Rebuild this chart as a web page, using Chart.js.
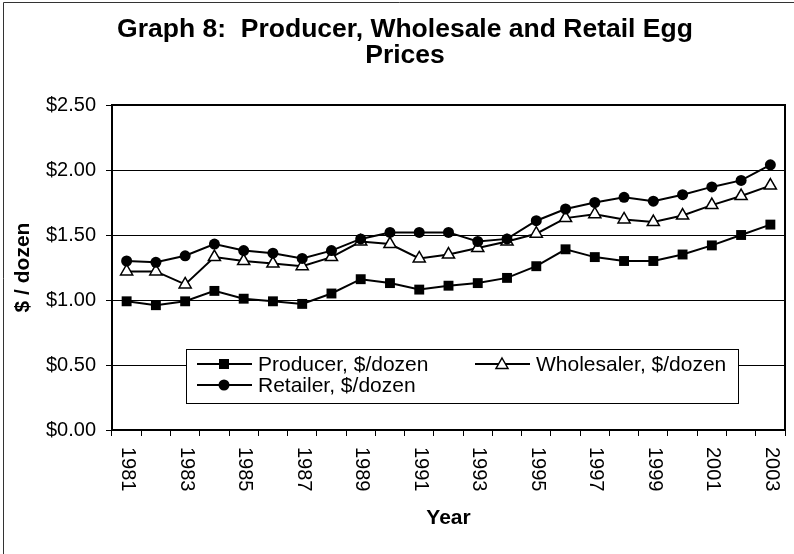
<!DOCTYPE html>
<html>
<head>
<meta charset="utf-8">
<title>Graph 8</title>
<script src="https://cdn.jsdelivr.net/npm/chart.js@4/dist/chart.umd.min.js"></script>
<style>
  html, body { margin: 0; padding: 0; background: #fff; }
  #wrap { width: 794px; height: 554px; }
</style>
</head>
<body>
<div id="wrap"><canvas id="eggChart" width="794" height="554"></canvas></div>
<script>
// datos
var years = ['1981', '1982', '1983', '1984', '1985', '1986', '1987', '1988', '1989', '1990', '1991', '1992',
             '1993', '1994', '1995', '1996', '1997', '1998', '1999', '2000', '2001', '2002', '2003'];
var producer = [0.99, 0.96, 0.99, 1.07, 1.01, 0.99, 0.97, 1.05, 1.16, 1.13, 1.08, 1.11,
                1.13, 1.17, 1.26, 1.39, 1.33, 1.30, 1.30, 1.35, 1.42, 1.50, 1.58];
var wholesaler = [1.22, 1.22, 1.12, 1.33, 1.30, 1.28, 1.26, 1.33, 1.45, 1.43, 1.32, 1.35,
                  1.40, 1.45, 1.51, 1.63, 1.66, 1.62, 1.60, 1.65, 1.73, 1.80, 1.88];
var retailer = [1.30, 1.29, 1.34, 1.43, 1.38, 1.36, 1.32, 1.38, 1.47, 1.52, 1.52, 1.52,
                1.45, 1.47, 1.61, 1.70, 1.75, 1.79, 1.76, 1.81, 1.87, 1.92, 2.04];
var seriesNames = ['Producer, $/dozen', 'Wholesaler, $/dozen', 'Retailer, $/dozen'];
var yMin = 0, yMax = 2.5, yStep = 0.5;

var fontFamily = "'Liberation Sans', Arial, sans-serif";
Chart.defaults.font.family = fontFamily;
Chart.defaults.color = '#000';

function drawMarker(ctx, style, x, y) {
    ctx.beginPath();
    if (style === 'rect') {
        ctx.rect(x - 5, y - 5, 10, 10);
        ctx.fillStyle = '#000';
        ctx.fill();
    } else if (style === 'circle') {
        ctx.arc(x, y, 5.5, 0, Math.PI * 2);
        ctx.fillStyle = '#000';
        ctx.fill();
    } else {
        ctx.moveTo(x, y - 6);
        ctx.lineTo(x + 6, y + 4.5);
        ctx.lineTo(x - 6, y + 4.5);
        ctx.closePath();
        ctx.fillStyle = '#fff';
        ctx.fill();
        ctx.lineWidth = 1.5;
        ctx.strokeStyle = '#000';
        ctx.stroke();
    }
}

// marco, borde del area, etiquetas de años y leyenda
var extras = {
    id: 'extras',
    afterDraw: function (chart) {
        var ctx = chart.ctx;
        var area = chart.chartArea;
        var xs = chart.scales.x;

        ctx.save();
        // marco exterior
        ctx.strokeStyle = '#333';
        ctx.lineWidth = 1;
        ctx.beginPath();
        ctx.moveTo(3.5, 560);
        ctx.lineTo(3.5, 2.5);
        ctx.lineTo(800, 2.5);
        ctx.stroke();

        // borde del area de trazado
        ctx.strokeStyle = '#000';
        ctx.lineWidth = 2;
        ctx.strokeRect(area.left, area.top, area.right - area.left, area.bottom - area.top);

        // años en vertical, uno si y otro no
        ctx.fillStyle = '#000';
        ctx.font = '20px ' + fontFamily;
        ctx.textAlign = 'left';
        ctx.textBaseline = 'middle';
        for (var i = 0; i < years.length; i += 2) {
            var px = xs.getPixelForTick(i);
            ctx.save();
            ctx.translate(px + 1, area.bottom + 17);
            ctx.rotate(Math.PI / 2);
            ctx.fillText(years[i], 0, 0);
            ctx.restore();
        }

        // leyenda
        var bx = 186, by = 349, bw = 552, bh = 54;
        ctx.fillStyle = '#fff';
        ctx.fillRect(bx, by, bw, bh);
        ctx.lineWidth = 1;
        ctx.strokeStyle = '#000';
        ctx.strokeRect(bx + 0.5, by + 0.5, bw, bh);
        var items = [
            { text: seriesNames[0], style: 'rect', x: bx + 11, y: by + 15 },
            { text: seriesNames[1], style: 'triangle', x: bx + 289, y: by + 15 },
            { text: seriesNames[2], style: 'circle', x: bx + 11, y: by + 36 }
        ];
        ctx.font = '21px ' + fontFamily;
        items.forEach(function (it) {
            ctx.beginPath();
            ctx.moveTo(it.x, it.y);
            ctx.lineTo(it.x + 55, it.y);
            ctx.lineWidth = 2;
            ctx.strokeStyle = '#000';
            ctx.stroke();
            drawMarker(ctx, it.style, it.x + 27, it.y);
            ctx.fillStyle = '#000';
            ctx.textAlign = 'left';
            ctx.textBaseline = 'middle';
            ctx.fillText(it.text, it.x + 61, it.y + 1);
        });
        ctx.restore();
    }
};

var ctx = document.getElementById('eggChart').getContext('2d');
var eggChart = new Chart(ctx, {
    type: 'line',
    data: {
        labels: years,
        datasets: [{
            label: seriesNames[0],
            data: producer,
            borderColor: '#000',
            backgroundColor: '#000',
            borderWidth: 2,
            pointStyle: 'rect',
            pointRadius: 7,
            pointBorderWidth: 0,
            tension: 0,
            order: 2
        }, {
            label: seriesNames[1],
            data: wholesaler,
            borderColor: '#000',
            backgroundColor: '#fff',
            borderWidth: 2,
            pointStyle: 'triangle',
            pointRadius: 7,
            pointBorderWidth: 1.5,
            pointBackgroundColor: '#fff',
            tension: 0,
            order: 1
        }, {
            label: seriesNames[2],
            data: retailer,
            borderColor: '#000',
            backgroundColor: '#000',
            borderWidth: 2,
            pointStyle: 'circle',
            pointRadius: 5.5,
            pointBorderWidth: 0,
            tension: 0,
            order: 0
        }]
    },
    options: {
        responsive: false,
        animation: false,
        layout: { padding: { left: 25, right: 9, top: 0, bottom: 0 } },
        plugins: {
            legend: { display: false },
            tooltip: { enabled: false },
            title: {
                display: true,
                text: ['Graph 8:  Producer, Wholesale and Retail Egg', 'Prices'],
                color: '#000',
                font: { size: 26.5, weight: 'bold', lineHeight: 1.0 },
                padding: { top: 16, bottom: 36 }
            }
        },
        scales: {
            x: {
                type: 'category',
                offset: true,
                grid: { offset: true, drawOnChartArea: false, drawTicks: true, tickLength: 6, color: '#000', lineWidth: 1 },
                border: { display: true, color: '#000', width: 2 },
                ticks: { display: false },
                title: {
                    display: true,
                    text: 'Year',
                    color: '#000',
                    font: { size: 21, weight: 'bold' },
                    padding: { top: 0, bottom: 23 }
                },
                afterFit: function (s) { s.height = 124; }
            },
            y: {
                min: yMin,
                max: yMax,
                ticks: {
                    stepSize: yStep,
                    padding: 10,
                    color: '#000',
                    font: { size: 20 },
                    callback: function (v) { return '$' + Number(v).toFixed(2); }
                },
                grid: { color: '#000', lineWidth: 1, tickLength: 6 },
                border: { display: true, color: '#000', width: 2 },
                title: {
                    display: true,
                    text: '$ / dozen',
                    color: '#000',
                    font: { size: 21, weight: 'bold' },
                    padding: { top: -14.6, bottom: 0 }
                },
                afterFit: function (s) { s.width = 87; }
            }
        }
    },
    plugins: [extras]
});
</script>
</body>
</html>
